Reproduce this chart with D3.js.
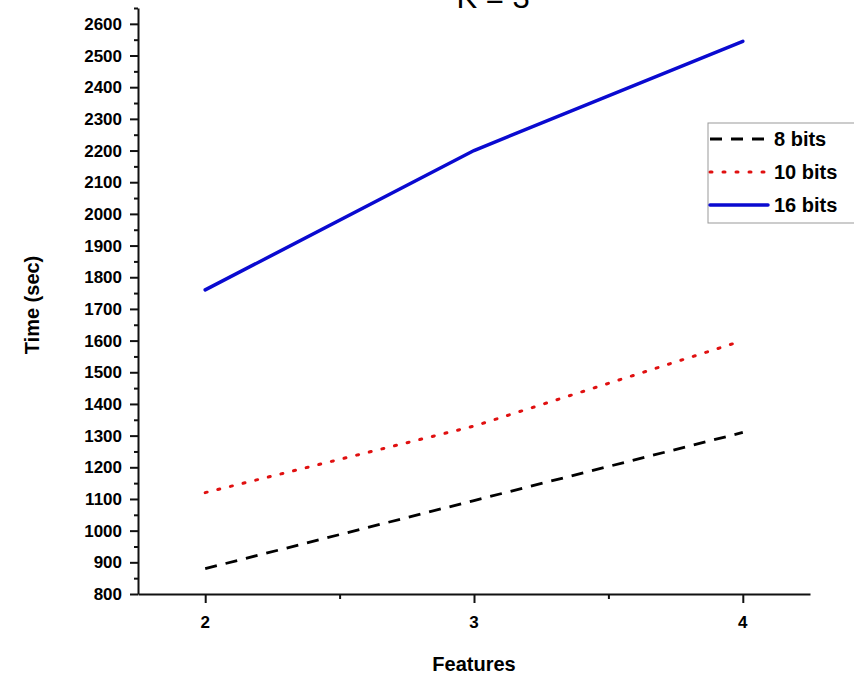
<!DOCTYPE html>
<html>
<head>
<meta charset="utf-8">
<script src="https://cdn.jsdelivr.net/npm/d3@7"></script>
<style>
	body { margin: 0; background: #fff; }
	svg { font-family: "Liberation Sans", Arial, sans-serif; }
	.axis path, .axis line { stroke: #111; stroke-width: 2; }
</style>
</head>
<body>
<div id="chart-area"></div>
<script>
// Data
var features = [2, 3, 4];
var bits8 = [880, 1095, 1310];
var bits10 = [1120, 1330, 1600];
var bits16 = [1760, 2200, 2545];
var seriesNames = ["8 bits", "10 bits", "16 bits"];
var yTicks = d3.range(800, 2601, 100);
var yMinorTicks = d3.range(850, 2651, 100);
var xTicks = [2, 3, 4];
var xMinorTicks = [2.5, 3.5];

var width = 854, height = 679;

var xScale = d3.scaleLinear().domain([1.75, 4.25]).range([138, 810]);
var yScale = d3.scaleLinear().domain([800, 2650]).range([594, 8]);

var svg = d3.select("#chart-area").append("svg")
	.attr("width", width)
	.attr("height", height);

// title, cut off at the top like the original
svg.append("text")
	.attr("x", 493)
	.attr("y", 8)
	.attr("text-anchor", "middle")
	.style("font-size", "31px")
	.text("K = 3");

// axes (tick lines only, labels drawn below)
var yAxis = d3.axisLeft(yScale).tickValues(yTicks).tickSize(8).tickSizeOuter(0).tickFormat("");
var xAxis = d3.axisBottom(xScale).tickValues(xTicks).tickSize(9).tickSizeOuter(0).tickFormat("");

svg.append("g").attr("class", "axis y-axis")
	.attr("transform", "translate(138,0)")
	.call(yAxis);

svg.append("g").attr("class", "axis y-minor")
	.attr("transform", "translate(138,0)")
	.call(d3.axisLeft(yScale).tickValues(yMinorTicks).tickSize(4).tickFormat("").tickSizeOuter(0))
	.select(".domain").remove();

svg.append("g").attr("class", "axis x-axis")
	.attr("transform", "translate(0,594)")
	.call(xAxis);

svg.append("g").attr("class", "axis x-minor")
	.attr("transform", "translate(0,594)")
	.call(d3.axisBottom(xScale).tickValues(xMinorTicks).tickSize(5).tickFormat("").tickSizeOuter(0))
	.select(".domain").remove();

// tick labels, same way as the other texts
var yLabels = svg.append("g");
yTicks.forEach(function(v) {
	yLabels.append("text")
		.attr("x", 122)
		.attr("y", yScale(v) + 6)
		.attr("text-anchor", "end")
		.style("font-weight", "bold")
		.style("font-size", "17px")
		.text(v + "");
});

var xLabels = svg.append("g");
xTicks.forEach(function(v) {
	xLabels.append("text")
		.attr("x", xScale(v))
		.attr("y", 628)
		.attr("text-anchor", "middle")
		.style("font-weight", "bold")
		.style("font-size", "17px")
		.text(v + "");
});

// axis labels
svg.append("text")
	.attr("x", 474)
	.attr("y", 671)
	.attr("text-anchor", "middle")
	.style("font-weight", "bold")
	.style("font-size", "20px")
	.text("Features");

svg.append("text")
	.attr("transform", "rotate(-90) translate(-305, 39)")
	.attr("text-anchor", "middle")
	.style("font-weight", "bold")
	.style("font-size", "20px")
	.text("Time (sec)");

// lines
var styles = [
	{ values: bits8, color: "#000", width: 2.8, dash: "12,9", cap: "butt" },
	{ values: bits10, color: "#e01010", width: 3, dash: "2,11", cap: "round" },
	{ values: bits16, color: "#0a0ad0", width: 3.5, dash: null, cap: "round" }
];

var lineGenerator = d3.line()
	.x(function(d) { return xScale(d.x); })
	.y(function(d) { return yScale(d.y); });

styles.forEach(function(s) {
	var pts = features.map(function(f, i) { return { x: f, y: s.values[i] }; });
	svg.append("path")
		.datum(pts)
		.attr("fill", "none")
		.attr("stroke", s.color)
		.attr("stroke-width", s.width)
		.attr("stroke-linecap", s.cap)
		.attr("stroke-dasharray", s.dash)
		.attr("d", lineGenerator);
});

// legend
var legend = svg.append("g").attr("class", "legend");
legend.append("rect")
	.attr("x", 708).attr("y", 123)
	.attr("width", 160).attr("height", 100)
	.attr("fill", "#fff")
	.attr("stroke", "#999")
	.attr("stroke-width", 1);

styles.forEach(function(s, i) {
	var y = 139 + i * 33;
	legend.append("line")
		.attr("x1", 710).attr("x2", 768)
		.attr("y1", y).attr("y2", y)
		.attr("stroke", s.color)
		.attr("stroke-width", s.width)
		.attr("stroke-linecap", s.cap)
		.attr("stroke-dasharray", s.dash);
	legend.append("text")
		.attr("x", 774)
		.attr("y", y + 7)
		.style("font-weight", "bold")
		.style("font-size", "20px")
		.text(seriesNames[i]);
});
</script>
</body>
</html>
